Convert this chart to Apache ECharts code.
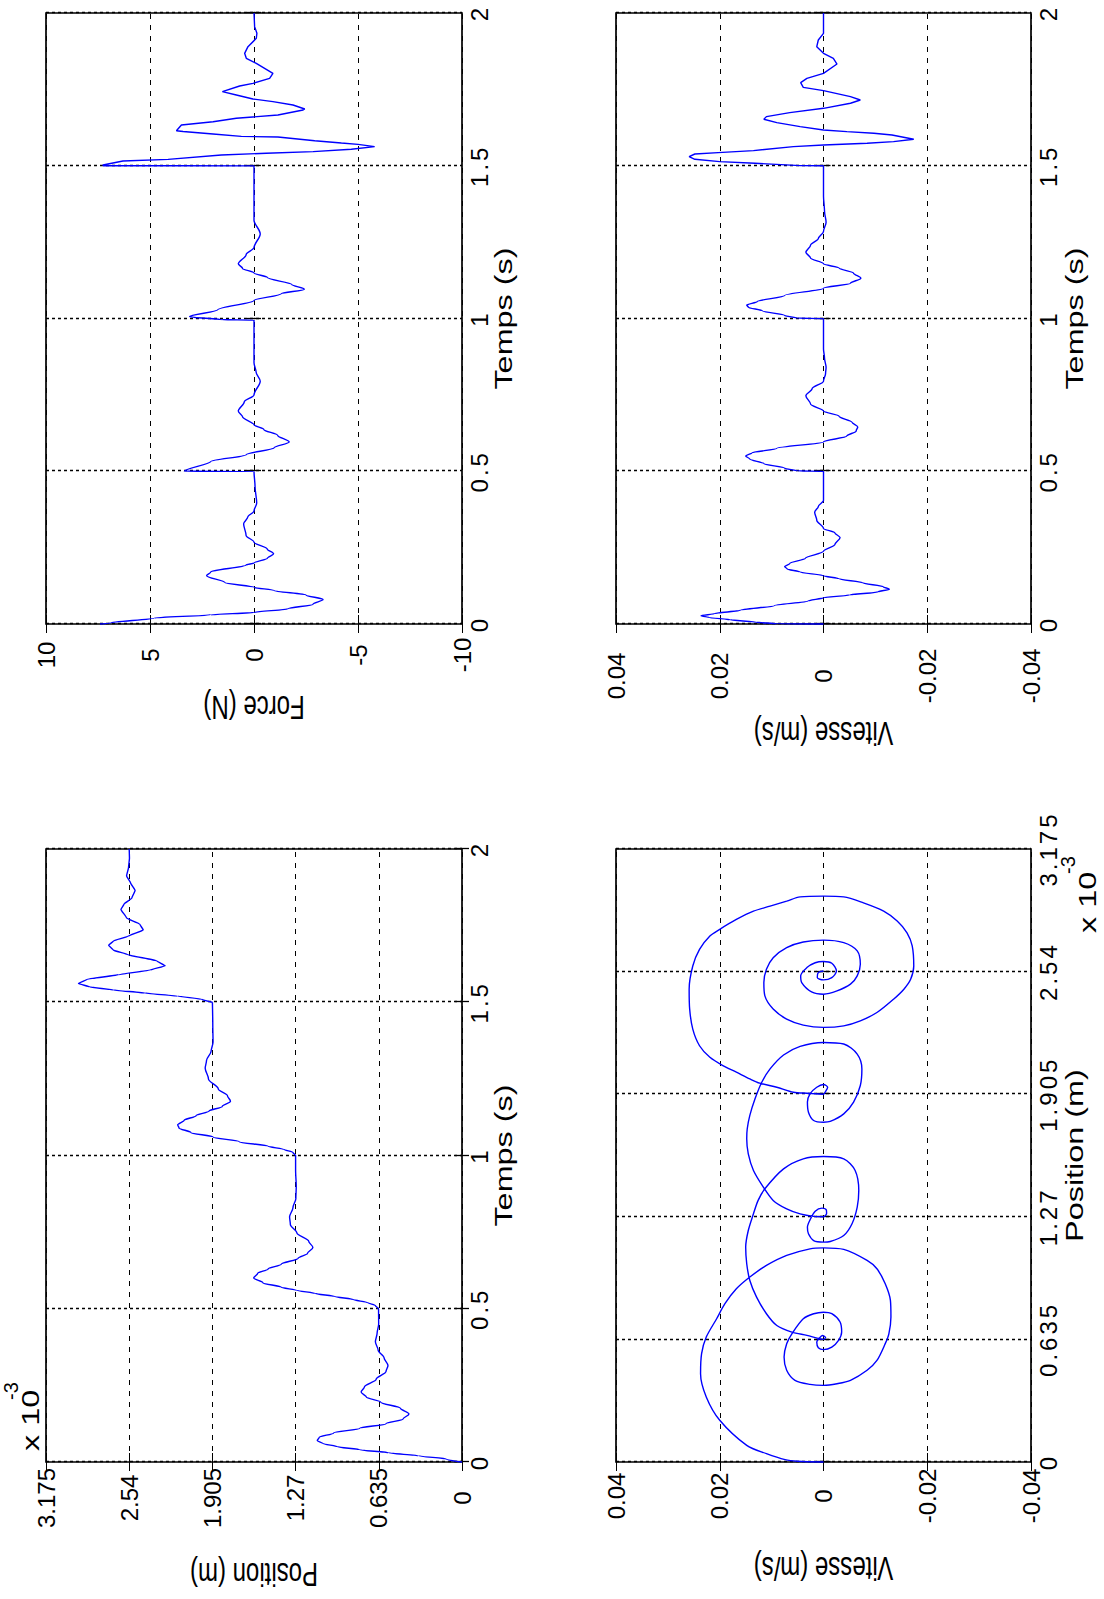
<!DOCTYPE html>
<html><head><meta charset="utf-8">
<script src="https://cdn.jsdelivr.net/npm/echarts@6/dist/echarts.min.js"></script>
<style>
html,body{margin:0;padding:0;background:#fff;overflow:hidden;width:1104px;height:1599px;}
#chart{position:absolute;left:0;top:0;width:1599px;height:1104px;transform-origin:0 0;transform:translateY(1599px) rotate(-90deg);background:#fff;}
</style></head><body><div id="chart"></div>
<script>
// ---------- DATA (position in units of 1e-3 m) ----------
const posT = [0,0.01,0.02,0.03,0.04,0.05,0.06,0.07,0.08,0.095,0.11,0.125,0.14,0.157,0.175,0.195,0.212,0.228,0.245,0.27,0.295,0.315,0.34,0.365,0.392,0.42,0.45,0.5,
  0.51,0.52,0.53,0.54,0.55,0.56,0.57,0.585,0.6,0.615,0.63,0.645,0.665,0.68,0.7,0.72,0.747,0.775,0.8,0.83,0.86,0.9,0.95,1.0,
  1.01,1.02,1.03,1.045,1.06,1.075,1.09,1.1,1.115,1.13,1.145,1.16,1.177,1.195,1.217,1.25,1.285,1.31,1.34,1.37,1.42,1.5,
  1.51,1.52,1.53,1.54,1.55,1.561,1.575,1.59,1.605,1.619,1.635,1.655,1.67,1.686,1.7,1.715,1.736,1.755,1.775,1.803,1.82,1.84,1.865,1.89,1.912,1.94,1.97,2.0];
const posV = [0,0.12,0.33,0.56,0.78,0.95,1.06,1.105,1.09,0.98,0.78,0.58,0.45,0.405,0.47,0.62,0.73,0.77,0.745,0.655,0.58,0.565,0.595,0.64,0.661,0.648,0.636,0.637,
  0.66,0.72,0.83,0.97,1.12,1.26,1.38,1.52,1.59,1.56,1.48,1.38,1.25,1.18,1.138,1.17,1.26,1.31,1.316,1.29,1.268,1.265,1.27,1.27,
  1.29,1.36,1.48,1.7,1.9,2.07,2.16,2.17,2.12,2.03,1.93,1.83,1.767,1.79,1.86,1.935,1.96,1.95,1.915,1.9,1.902,1.905,
  1.99,2.17,2.42,2.66,2.84,2.927,2.86,2.62,2.38,2.266,2.33,2.55,2.66,2.697,2.66,2.55,2.433,2.46,2.56,2.603,2.58,2.52,2.495,2.53,2.56,2.545,2.538,2.54];

const forceT = [0,0.003,0.0196,0.03,0.0377,0.05,0.065,0.08,0.095,0.11,0.12,0.1355,0.158,0.17,0.193,0.2,0.215,0.23,0.245,0.268,0.29,0.328,0.35,0.37,0.396,0.45,0.4995,
  0.5,0.5316,0.554,0.577,0.596,0.617,0.637,0.652,0.678,0.697,0.727,0.75,0.795,0.825,0.855,0.995,
  0.996,1.006,1.0286,1.059,1.081,1.096,1.111,1.134,1.149,1.164,1.179,1.209,1.232,1.277,1.322,1.4995,
  1.5,1.5025,1.5155,1.521,1.535,1.541,1.5462,1.554,1.5626,1.57,1.5744,1.582,1.594,1.596,1.604,1.612,1.6145,
  1.6334,1.644,1.6553,1.666,1.6825,1.6858,1.6989,1.7098,1.7185,1.7316,1.7425,1.761,1.7698,1.786,1.8025,
  1.8352,1.8516,1.868,1.8898,1.917,1.934,1.9553,2.0];
const forceV = [7.4,6.9,4.79,2.08,0,-1.65,-2.84,-3.32,-2.5,-0.97,0,1.4,2.28,2.08,0.38,0,-0.64,-0.94,-0.64,0,0.38,0.5,0.3,0,-0.13,-0.05,0,
  3.35,2.08,0.38,-0.97,-1.69,-1.14,-0.47,0,0.55,0.755,0.47,0,-0.3,-0.1,0,0,
  1.54,3.1,1.74,0,-1.31,-2.42,-1.82,-0.64,0,0.55,0.755,0.38,0,-0.3,0,0,
  7.26,7.26,6.3,4.13,1.57,-0.59,-2.84,-4.68,-5.8,-5.0,-4.2,-2.92,-1.15,0.61,1.97,3.41,3.73,
  3.49,1.97,0.85,-1.15,-2.36,-2.44,-1.875,-0.91,0.05,0.85,1.52,0.69,0.05,-0.75,-0.91,
  -0.11,0.37,0.45,0.29,-0.11,-0.14,-0.03,0];

const velT = [0,0.0005,0.006,0.014,0.021,0.027,0.034,0.045,0.06,0.075,0.086,0.095,0.105,0.114,0.122,0.135,0.148,0.158,0.17,0.18,0.188,0.198,0.215,0.238,0.26,0.283,0.298,0.313,0.34,0.366,0.385,0.404,0.5,
  0.501,0.51,0.525,0.54,0.55,0.56,0.575,0.596,0.615,0.632,0.645,0.66,0.68,0.697,0.72,0.747,0.77,0.795,0.82,0.84,0.87,0.9,1.0,
  1.001,1.01,1.025,1.037,1.044,1.055,1.075,1.099,1.115,1.132,1.148,1.165,1.179,1.198,1.217,1.24,1.262,1.285,1.315,1.35,1.4,1.5,
  1.5005,1.508,1.5134,1.5211,1.53,1.5385,1.543,1.5495,1.5626,1.568,1.5735,1.579,1.5866,1.6008,1.6063,1.6117,1.6172,1.6281,1.6412,1.6521,1.6608,1.6739,1.688,
  1.7045,1.7152,1.7261,1.7458,1.7567,1.772,1.7861,1.8025,1.833,1.8516,1.868,1.8897,1.9116,1.9334,2.0];
const velV = [0,0.009,0.013,0.018,0.022,0.0236,0.021,0.016,0.0095,0.003,0,-0.005,-0.0105,-0.0127,-0.0115,-0.0075,-0.003,0,0.0045,0.007,0.0075,0.0065,0.0035,0,-0.0022,-0.0032,-0.0022,0,0.0013,0.0017,0.001,0,0,
  0.005,0.0075,0.0115,0.0142,0.015,0.0138,0.009,0,-0.0045,-0.0063,-0.0066,-0.0055,-0.003,0,0.0025,0.0034,0.0022,0,-0.0004,-0.0005,-0.0002,0,0,
  0.005,0.0075,0.0118,0.0145,0.0148,0.0128,0.0075,0,-0.0052,-0.0072,-0.0058,-0.003,0,0.0025,0.0034,0.0025,0.001,0,-0.0005,-0.0002,0,0,
  0.0045,0.0132,0.02,0.0248,0.0259,0.0248,0.0203,0.0135,0.0058,0,-0.0084,-0.0135,-0.0174,-0.0132,-0.0097,-0.0045,0,0.0045,0.009,0.0115,0.011,0.0065,0,
  -0.0052,-0.0071,-0.0052,0,0.0039,0.0044,0.0032,0,-0.0026,-0.0019,0,0.0013,0.001,0,0];

const phasePos = [0,0.004,0.012,0.043,0.086,0.216,0.337,0.457,0.561,0.647,0.742,0.82,0.897,0.958,1.018,1.07,1.104,1.109,1.101,1.044,1.001,0.923,0.837,0.751,0.664,0.613,0.526,0.475,0.423,0.4055,0.397,0.402,0.423,0.475,0.5435,0.6126,0.664,0.742,0.768,0.776,0.768,0.725,0.673,0.63,0.595,0.582,0.592,0.621,0.642,0.655,0.645,0.635,
  0.656,0.673,0.707,0.768,0.854,0.94,1.027,1.113,1.199,1.286,1.355,1.415,1.518,1.57,1.582,1.57,1.51,1.406,1.32,1.234,1.173,1.142,1.139,1.147,1.182,1.216,1.254,1.299,1.315,1.308,1.289,1.27,
  1.272,1.285,1.311,1.355,1.424,1.51,1.596,1.674,1.726,1.795,1.881,1.967,2.036,2.108,2.153,2.173,2.165,2.113,2.036,1.95,1.864,1.803,1.764,1.76,1.769,1.812,1.864,1.907,1.941,1.955,1.941,1.915,1.905,
  1.91,1.915,1.941,1.962,1.984,2.019,2.053,2.096,2.156,2.242,2.346,2.449,2.569,2.655,2.724,2.759,2.81,2.853,2.879,2.905,2.927,2.931,2.927,2.896,2.853,2.802,2.741,2.673,2.569,2.5,2.449,2.397,2.328,2.285,2.259,2.251,
  2.263,2.294,2.346,2.414,2.483,2.552,2.612,2.664,2.693,2.703,2.69,2.647,2.578,2.518,2.475,2.44,2.423,2.435,2.483,2.518,2.561,2.586,2.592,2.583,2.543,2.509,2.497,2.509,2.535,2.543,2.54];
const phaseVel = [0,0.005,0.0074,0.011,0.0148,0.02,0.0226,0.0237,0.0235,0.0226,0.0206,0.019,0.0168,0.0142,0.011,0.0071,0.0026,0,-0.0039,-0.0084,-0.0103,-0.0119,-0.0129,-0.013,-0.0126,-0.0119,-0.0103,-0.0084,-0.0052,-0.0026,0,0.0026,0.0055,0.0071,0.0076,0.0071,0.0061,0.0039,0.0019,0,-0.0016,-0.0032,-0.0035,-0.0029,-0.0016,0,0.001,0.0013,0.0008,0.0002,-0.0004,0,
  0.0032,0.0061,0.009,0.011,0.0129,0.0142,0.0148,0.015,0.0145,0.0135,0.0126,0.0113,0.0077,0.0039,0,-0.0039,-0.0061,-0.0068,-0.0065,-0.0055,-0.0039,-0.0013,0,0.0019,0.0029,0.0031,0.0026,0.0016,0.0003,-0.0005,-0.0006,0,
  0.0019,0.0045,0.0071,0.0097,0.0116,0.0135,0.0145,0.0148,0.0147,0.0142,0.0132,0.0119,0.0103,0.0077,0.0045,0,-0.0039,-0.0065,-0.0074,-0.0071,-0.0058,-0.0039,-0.0013,0,0.0019,0.0029,0.0031,0.0026,0.0013,0,-0.0008,-0.0003,0,
  0.0032,0.0058,0.009,0.0123,0.0142,0.0168,0.0194,0.0219,0.0239,0.0252,0.0258,0.0259,0.0252,0.0239,0.0219,0.02,0.0168,0.0135,0.0103,0.0071,0.0045,0,-0.0039,-0.0077,-0.0116,-0.0142,-0.0161,-0.0171,-0.0174,-0.0168,-0.0155,-0.0135,-0.0103,-0.0071,-0.0039,0,
  0.0039,0.0071,0.0097,0.0113,0.0115,0.011,0.0097,0.0071,0.0039,0,-0.0039,-0.0065,-0.0071,-0.0065,-0.0052,-0.0026,0,0.0023,0.0042,0.0044,0.0032,0.0016,0,-0.0016,-0.0025,-0.0016,0,0.0012,0.001,0,0];

const timeTicks = ['0','0.5','1','1.5','2'];
const positionTicks = ['0','0.635','1.27','1.905','2.54','3.175'];
const forceTicks = ['-10','-5','0','5','10'];
const velocityTicks = ['-0.04','-0.02','0','0.02','0.04'];

// ---------- CHART ----------
// same face, three font stacks so each text group can be styled after render
const FONT_Y = "'Liberation Sans', Arial, Helvetica, sans-serif";   // y ticks, exponents
const FONT_X = "'Liberation Sans', Arial, sans-serif";              // x ticks (letter spaced)
const FONT_N = "'Liberation Sans', Arimo, sans-serif";              // axis names (stretched)
const FS = 24;
const STRETCH = 1.35;
const chart = echarts.init(document.getElementById('chart'), null, {renderer:'svg', width:1599, height:1104});
const pair = (xs, ys) => xs.map((x, i) => [x, ys[i]]);
const grids = [
  {left:137, top:46, width:613, height:416},
  {left:975, top:46, width:611, height:416},
  {left:137, top:616, width:613, height:415},
  {left:975, top:616, width:611, height:415}
].map(g => Object.assign(g, {show:true, borderColor:'#000', borderWidth:1.7, backgroundColor:'#fff'}));

const fmt = (labels, min, step) => (v) => labels[Math.round((v - min) / step)] ?? '';
const axX = [
  {min:0, max:2, interval:0.5, labels:timeTicks, name:'Temps (s)', gap:30},
  {min:0, max:2, interval:0.5, labels:timeTicks, name:'Temps (s)', gap:30},
  {min:0, max:3.175, interval:0.635, labels:positionTicks, name:'Position (m)', gap:32},
  {min:0, max:2, interval:0.5, labels:timeTicks, name:'Temps (s)', gap:32}
];
const axY = [
  {min:0, max:3.175, interval:0.635, labels:positionTicks, name:'Position (m)', gap:100, margin:36},
  {min:-10, max:10, interval:5, labels:forceTicks, name:'Force (N)', gap:71, margin:31},
  {min:-0.04, max:0.04, interval:0.02, labels:velocityTicks, name:'Vitesse (m/s)', gap:94, margin:34},
  {min:-0.04, max:0.04, interval:0.02, labels:velocityTicks, name:'Vitesse (m/s)', gap:97, margin:52}
];
const tickX = {show:true, inside:true, length:7, lineStyle:{color:'#000', width:1.3}};
const tickY = {show:true, inside:true, length:9, lineStyle:{color:'#000', width:1}};
const xAxis = [], yAxis = [];
axX.forEach((a, i) => xAxis.push({
  gridIndex:i, type:'value', position:'bottom', min:a.min, max:a.max, interval:a.interval,
  name:a.name, nameLocation:'middle', nameGap:a.gap,
  nameTextStyle:{fontFamily:FONT_N, fontSize:FS, color:'#000'},
  axisLine:{show:false}, axisTick:tickX,
  axisLabel:{fontFamily:FONT_X, fontSize:FS, color:'#000', margin:5, formatter:fmt(a.labels, a.min, a.interval)},
  splitLine:{show:true, lineStyle:{color:'#000', width:1.3, type:[3,3]}}
}));
axY.forEach((a, i) => yAxis.push({
  gridIndex:i, type:'value', position:'left', min:a.min, max:a.max, interval:a.interval,
  name:a.name, nameLocation:'middle', nameGap:a.gap, nameRotate:90,
  nameTextStyle:{fontFamily:FONT_N, fontSize:FS, color:'#000'},
  axisLine:{show:false}, axisTick:tickY,
  axisLabel:{fontFamily:FONT_Y, fontSize:FS, color:'#000', margin:a.margin, align:'center', formatter:fmt(a.labels, a.min, a.interval)},
  splitLine:{show:true, lineStyle:{color:'#000', width:1, type:[5,6]}}
}));
axX.forEach((a, i) => xAxis.push({gridIndex:i, type:'value', position:'top', min:a.min, max:a.max, interval:a.interval,
  axisLine:{show:false}, axisTick:tickX, axisLabel:{show:false}, splitLine:{show:false}}));
axY.forEach((a, i) => yAxis.push({gridIndex:i, type:'value', position:'right', min:a.min, max:a.max, interval:a.interval,
  axisLine:{show:false}, axisTick:tickY, axisLabel:{show:false}, splitLine:{show:false}}));

const line = (i, data, smooth) => ({type:'line', xAxisIndex:i, yAxisIndex:i, data, showSymbol:false, symbol:'none',
  smooth, smoothMonotone: i === 2 ? undefined : 'x', lineStyle:{color:'#0000ff', width:1.4}, animation:false, z:5});
// time series: smooth damped parts up to t = 1.5, sharper last segment after it
const early = (ts, vs) => pair(ts, vs).filter(p => p[0] <= 1.5);
const late = (ts, vs) => pair(ts, vs).filter(p => p[0] >= 1.5);

const txt = (x, y, text, size, family) => ({type:'text', left:x, top:y, z:10, style:{text, fontFamily:family, fontSize:size, fill:'#000'}});

chart.setOption({
  backgroundColor:'#fff',
  animation:false,
  grid:grids,
  xAxis, yAxis,
  series:[
    line(0, early(posT, posV), 0.3), line(0, late(posT, posV), 0.12),
    line(1, early(forceT, forceV), 0.3), line(1, late(forceT, forceV), false),
    line(2, pair(phasePos, phaseVel), 0.3),
    line(3, early(velT, velV), 0.3), line(3, late(velT, velV), false)
  ],
  graphic:[
    txt(156, 19, 'x 10', 24, FONT_N), txt(199, 1, '-3', 20, FONT_Y),
    txt(674, 1076, 'x 10', 24, FONT_N), txt(725, 1058, '-3', 20, FONT_Y)
  ]
});

// text styling that ECharts has no option for: letter spacing on x ticks,
// horizontal stretch (as in the reference rendering) on axis names
const done = new WeakSet();
function styleTexts() {
  document.querySelectorAll('#chart svg text').forEach(t => {
    if (done.has(t)) return;
    const ff = getComputedStyle(t).fontFamily || '';
    if (ff.indexOf('Arimo') >= 0) {
      try {
        const svg = t.ownerSVGElement;
        const bb = t.getBBox();
        const ctm = t.getCTM();
        let p = svg.createSVGPoint();
        p.x = bb.x + bb.width / 2; p.y = bb.y + bb.height / 2;
        p = p.matrixTransform(ctm);
        const par = t.parentNode;
        const pctm = par && par.getCTM ? par.getCTM() : null;
        if (pctm) p = p.matrixTransform(pctm.inverse());
        const list = t.transform.baseVal;
        const t1 = svg.createSVGTransform(); t1.setTranslate(p.x, 0);
        const t2 = svg.createSVGTransform(); t2.setScale(STRETCH, 1);
        const t3 = svg.createSVGTransform(); t3.setTranslate(-p.x, 0);
        list.insertItemBefore(t3, 0); list.insertItemBefore(t2, 0); list.insertItemBefore(t1, 0);
      } catch (e) { t.style.letterSpacing = '5px'; }
    } else if (ff.indexOf('Helvetica') < 0 && ff.indexOf('Arial') >= 0) {
      t.style.letterSpacing = '3px';
    }
    done.add(t);
  });
}
styleTexts();
chart.on('finished', styleTexts);
setTimeout(styleTexts, 0);
setTimeout(styleTexts, 200);
</script></body></html>
